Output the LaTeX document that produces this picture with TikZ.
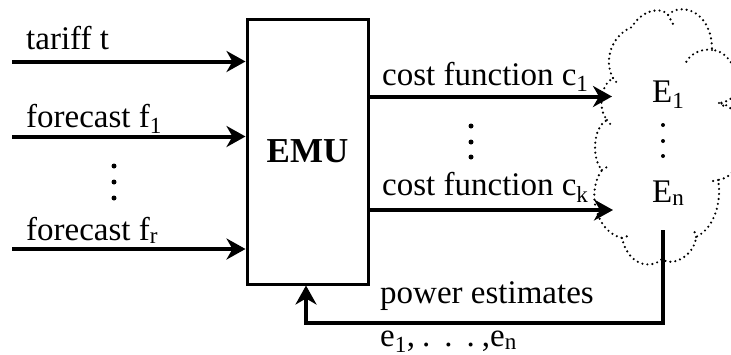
\documentclass[tikz,border=0pt]{standalone}
\usepackage{fontspec}
\setmainfont{Liberation Serif}
\usetikzlibrary{arrows.meta}
\begin{document}
\begin{tikzpicture}[x=1pt,y=-1pt,
  txt/.style={anchor=base west,inner sep=0pt,font=\fontsize{33}{38}\selectfont},
  arr/.style={line width=4pt,-{Stealth[length=19pt,width=21pt,inset=6pt]}},
  fbarr/.style={line width=3.5pt,-{Stealth[length=19pt,width=21pt,inset=6pt]}},
  dotc/.style={circle,fill=black,inner sep=0pt,minimum size=5pt},
  cloudline/.style={line width=2.4pt,line cap=round,dash pattern=on 0pt off 5pt},
  box/.style={draw,line width=3pt,minimum width=121pt,minimum height=265pt,inner sep=0pt}]
\useasboundingbox (0,0) rectangle (731,354);

% EMU box
\node[box,font=\fontsize{35}{40}\selectfont\bfseries] (emu) at (307.5,151.5) {EMU};

% input arrows
\coordinate (in1) at (12,61.5);
\coordinate (in2) at (12,136.5);
\coordinate (in3) at (12,249);
\draw[arr] (in1) -- (in1 -| emu.west);
\draw[arr] (in2) -- (in2 -| emu.west);
\draw[arr] (in3) -- (in3 -| emu.west);
\node[txt] (lt) at (26,49) {tariff t};
\node[txt] (lf1) at (26,127) {forecast f\textsubscript{1}};
\node[txt] (lfr) at (26,240) {forecast f\textsubscript{r}};
\node[dotc] (ld1) at (114,166) {};
\node[dotc] (ld2) at (114,182) {};
\node[dotc] (ld3) at (114,198) {};

% output arrows
\coordinate (out1) at (612,96.5);
\coordinate (out2) at (613,210);
\draw[arr] (emu.east |- out1) -- (out1);
\draw[arr] (emu.east |- out2) -- (out2);
\node[txt] (lc1) at (382,85) {cost function c\textsubscript{1}};
\node[txt] (lck) at (382,195) {cost function c\textsubscript{k}};
\node[dotc] (md1) at (471,126) {};
\node[dotc] (md2) at (471,142) {};
\node[dotc] (md3) at (471,157) {};

% cloud
\begin{scope}
\clip (0,0) rectangle (731,354);
\draw[cloudline]
  (613,78) .. controls (603,60) and (612,35) .. (632,27)
  .. controls (640,12) and (660,5) .. (668,15)
  .. controls (680,2) and (712,10) .. (712,50)
  .. controls (735,50) and (752,100) .. (719,103)
  .. controls (748,105) and (752,175) .. (718,180)
  .. controls (722,200) and (715,228) .. (696,237)
  .. controls (695,255) and (672,268) .. (662,259)
  .. controls (650,270) and (628,265) .. (622,238)
  .. controls (596,232) and (586,192) .. (602,170)
  .. controls (592,160) and (592,128) .. (607,120)
  .. controls (598,110) and (600,85) .. (613,78);
\draw[cloudline] (712,50) .. controls (700,48) and (688,55) .. (685,65);
\draw[cloudline] (668,15) -- (673,24);
\draw[cloudline] (613,78) -- (617,83);
\draw[cloudline] (607,120) -- (611,125);
\draw[cloudline] (602,170) -- (607,167);
\draw[cloudline] (622,238) -- (628,236);
\draw[cloudline] (662,259) -- (662,246);
\draw[cloudline] (696,237) -- (694,230);
\draw[cloudline] (718,180) -- (713,181);
\draw[cloudline] (719,103) -- (727,108);
\end{scope}
\node[txt] (e1) at (652,102) {E\textsubscript{1}};
\node[txt] (en) at (652,202) {E\textsubscript{n}};
\node[dotc,minimum size=4pt] (cd1) at (663,125) {};
\node[dotc,minimum size=4pt] (cd2) at (663,141) {};
\node[dotc,minimum size=4pt] (cd3) at (663,156) {};

% feedback
\coordinate (fb) at (663,230);
\coordinate (fbturn) at (306,323);
\draw[fbarr] (fb) |- (fbturn) -- (fbturn |- emu.south);
\node[txt] (lpe) at (380,303) {power estimates};
\node[txt] (lee) at (380,346) {e\textsubscript{1},\kern7pt.\kern14pt.\kern14pt.\kern7pt,e\textsubscript{n}};
\end{tikzpicture}
\end{document}
